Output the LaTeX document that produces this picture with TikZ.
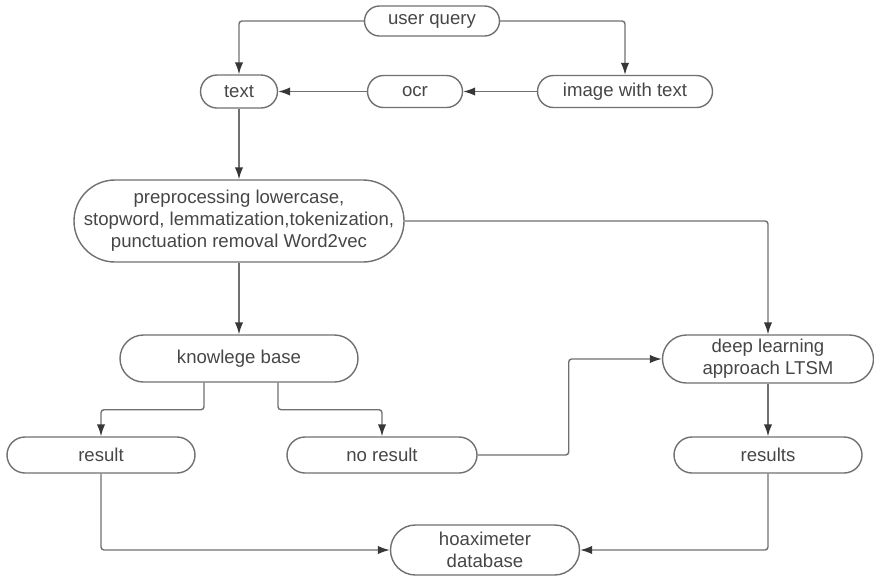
\documentclass[tikz,border=0pt]{standalone}
\usepackage{fontspec}
\setmainfont{Liberation Sans}
\usepackage{tikz}
\usetikzlibrary{arrows.meta}
\definecolor{linegray}{RGB}{112,112,112}
\definecolor{tipgray}{RGB}{55,55,55}
\definecolor{textgray}{RGB}{70,70,70}

\begin{document}
\begin{tikzpicture}[
  x=0.5pt,y=-0.5pt,
  term/.style={rectangle,draw=linegray,line width=0.7pt,text=textgray,align=center,
               inner sep=0pt,minimum height=2*#1,rounded corners=#1,
               font=\fontsize{9.3}{11}\selectfont},
  arrow/.style={-{Latex[length=6pt,width=4.2pt,color=tipgray]},draw=linegray,
                line width=0.7pt,rounded corners=1.5pt}
]
\useasboundingbox (0,0) rectangle (874,580);

% input side
\node[term=7.5pt,minimum width=67.5pt] (query) at (432,21) {user query};
\node[term=8.25pt,minimum width=38.5pt] (txt) at (239,91.5) {text};
\node[term=8pt,minimum width=47.5pt] (ocr) at (415,91.5) {ocr};
\node[term=8pt,minimum width=87.5pt] (img) at (625,91.5) {image with text};
\node[term=20.5pt,minimum width=165pt] (prep) at (239,221)
  {preprocessing lowercase,\\stopword, lemmatization,tokenization,\\punctuation removal Word2vec};

% two ways of checking
\node[term=11.75pt,minimum width=119pt] (kb) at (239,358.5) {knowlege base};
\node[term=12pt,minimum width=105.5pt] (deep) at (768,359) {deep learning\\approach LTSM};
\node[term=9pt,minimum width=94pt] (res) at (101,455) {result};
\node[term=9pt,minimum width=95pt] (nores) at (382,455) {no result};
\node[term=9pt,minimum width=94pt] (dlres) at (768,455) {results};
\node[term=12.5pt,minimum width=94.5pt] (hoax) at (485,550) {hoaximeter\\database};

\draw[arrow] (query.west) -| (txt.north);
\draw[arrow] (query.east) -| (img.north);
\draw[arrow] (img) -- (ocr);
\draw[arrow] (ocr) -- (txt);
\draw[arrow] (txt) -- (prep);
\draw[arrow] (prep) -- (kb);
\draw[arrow] (prep.east) -| (deep.north);
\draw[arrow] ([xshift=-17.5pt]kb.south) -- ++(0,27) -| (res.north);
\draw[arrow] ([xshift=19.5pt]kb.south) -- ++(0,27) -| (nores.north);
\draw[arrow] (nores.east) -- ++(91,0) |- (deep.west);
\draw[arrow] (deep) -- (dlres);
\draw[arrow] (res.south) |- (hoax.west);
\draw[arrow] (dlres.south) |- (hoax.east);
\end{tikzpicture}
\end{document}
